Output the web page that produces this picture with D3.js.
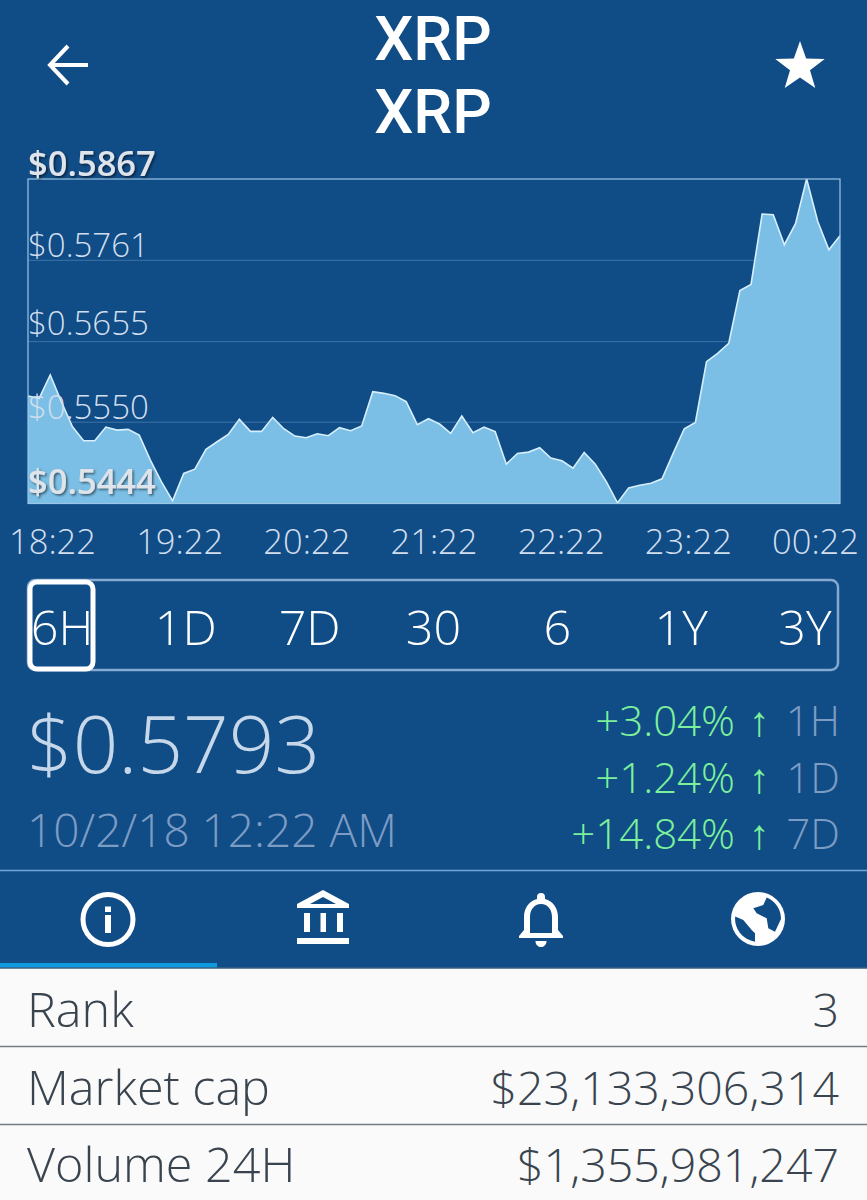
<!DOCTYPE html>
<html>
<head>
<meta charset="utf-8">
<script src="https://cdn.jsdelivr.net/npm/d3@7"></script>
<style>
  html, body { margin: 0; padding: 0; background: #104c86; }
  svg { display: block; }
  text { font-family: "Open Sans", sans-serif; font-weight: 300; }
</style>
</head>
<body>
<svg id="chart" width="867" height="1200"></svg>
<script>
// prices, one every five minutes or so
const prices = [
  0.55841, 0.55811, 0.56115, 0.55767, 0.55441, 0.55258, 0.55258, 0.55436, 0.55397, 0.55406,
  0.55332, 0.55006, 0.54723, 0.54475, 0.54832, 0.54888, 0.55145, 0.55245, 0.55341, 0.55537,
  0.55380, 0.55380, 0.55563, 0.55415, 0.55319, 0.55297, 0.55349, 0.55323, 0.55428, 0.55389,
  0.55450, 0.55898, 0.55876, 0.55846, 0.55767, 0.55467, 0.55545, 0.55476, 0.55354, 0.55580,
  0.55363, 0.55436, 0.55376, 0.54953, 0.55093, 0.55110, 0.55167, 0.55032, 0.54997, 0.54901,
  0.55106, 0.54953, 0.54723, 0.54449, 0.54644, 0.54679, 0.54705, 0.54762, 0.55093, 0.55415,
  0.55497, 0.56290, 0.56398, 0.56529, 0.57216, 0.57295, 0.58213, 0.58204, 0.57813, 0.58087,
  0.58670, 0.58117, 0.57747, 0.57930
];
const priceTicks = [0.5867, 0.5761, 0.5655, 0.5550, 0.5444];
const timeLabels = ["18:22", "19:22", "20:22", "21:22", "22:22", "23:22", "00:22"];
const ranges = ["6H", "1D", "7D", "30", "6", "1Y", "3Y"];
const changes = ["+3.04%", "+1.24%", "+14.84%"];
const changeSpans = ["1H", "1D", "7D"];
const statNames = ["Rank", "Market cap", "Volume 24H"];
const statValues = ["3", "$23,133,306,314", "$1,355,981,247"];

const svg = d3.select("#chart");
const bg = "#104c86";

// soft shadow for the top and bottom price labels
const shadow = svg.append("defs").append("filter").attr("id", "shadow")
  .attr("x", "-10%").attr("y", "-20%").attr("width", "120%").attr("height", "150%");
shadow.append("feDropShadow").attr("dx", 1.5).attr("dy", 1.5).attr("stdDeviation", 1.2)
  .attr("flood-color", "#000").attr("flood-opacity", 0.55);

// header
svg.selectAll(".title").data([60, 133]).enter().append("text")
  .attr("x", 433).attr("y", d => d)
  .attr("text-anchor", "middle").attr("font-size", 62)
  .style("font-family", "Roboto, sans-serif").style("font-weight", 500)
  .attr("fill", "#fff").text("XRP");

svg.append("path").attr("d", "M88 65H52M68 46L50 65L68 84")
  .attr("fill", "none").attr("stroke", "#fff").attr("stroke-width", 4);

const star = d3.range(10).map(i => {
  const r = i % 2 ? 10.5 : 26, a = i * Math.PI / 5;
  return [800 + r * Math.sin(a), 67 - r * Math.cos(a)];
});
svg.append("polygon").attr("points", star.join(" ")).attr("fill", "#fff");

// chart
const x = d3.scaleLinear().domain([0, prices.length - 1]).range([28, 840]);
const y = d3.scaleLinear().domain([0.5444, 0.5867]).range([503.5, 179]);

const area = d3.area().x((d, i) => x(i)).y0(y(0.5444)).y1(d => y(d));
const line = d3.line().x((d, i) => x(i)).y(d => y(d));

svg.append("path").datum(prices).attr("d", area).attr("fill", "#7bbfe6");
svg.append("path").datum(prices).attr("d", line)
  .attr("fill", "none").attr("stroke", "#d6effb").attr("stroke-width", 1.6);

svg.append("g").selectAll("line").data(priceTicks.slice(1, -1)).enter().append("line")
  .attr("x1", 28).attr("x2", 840).attr("y1", d => y(d)).attr("y2", d => y(d))
  .attr("stroke", "#8fc0ea").attr("stroke-opacity", 0.35);

svg.append("rect").attr("x", 28).attr("y", y(0.5867))
  .attr("width", 812).attr("height", y(0.5444) - y(0.5867))
  .attr("fill", "none").attr("stroke", "#9cc6e6").attr("stroke-width", 1.2);

// labels sit at different heights above their lines in the app
const labelNudge = [-4, -3.5, -7, -4, -10.5];
const yAxis = d3.axisRight(y).tickValues(priceTicks).tickSize(0).tickFormat(d => "$" + d.toFixed(4));
const yG = svg.append("g").attr("transform", "translate(28,0)").call(yAxis);
yG.select(".domain").remove();
yG.selectAll("text")
  .attr("x", 0).attr("dy", (d, i) => labelNudge[i])
  .attr("font-size", (d, i) => i === 0 || i === 4 ? 34.5 : 33)
  .attr("fill", (d, i) => i === 0 || i === 4 ? "#dfe3ea" : "#d0deee")
  .style("font-family", "\"Open Sans\", sans-serif")
  .style("font-weight", (d, i) => i === 0 || i === 4 ? 600 : 300)
  .attr("filter", (d, i) => i === 0 || i === 4 ? "url(#shadow)" : null);

const xLabels = d3.scalePoint().domain(timeLabels).range([52, 815]);
const xG = svg.append("g").attr("transform", "translate(0,554)")
  .call(d3.axisBottom(xLabels).tickSize(0).tickPadding(0));
xG.select(".domain").remove();
xG.selectAll("text").attr("dy", 0).attr("y", 0)
  .attr("font-size", 34.5).attr("fill", "#d0deee")
  .style("font-family", "\"Open Sans\", sans-serif").style("font-weight", 300);

// range selector
svg.append("rect").attr("x", 28).attr("y", 580).attr("width", 810).attr("height", 90).attr("rx", 7)
  .attr("fill", "none").attr("stroke", "#86a9cf").attr("stroke-width", 2.5);
svg.append("rect").attr("x", 30).attr("y", 582).attr("width", 63).attr("height", 87).attr("rx", 7)
  .attr("fill", "none").attr("stroke", "#fff").attr("stroke-width", 5);

const rangeX = d3.scalePoint().domain(ranges).range([62, 805]);
svg.selectAll(".range").data(ranges).enter().append("text")
  .attr("x", d => rangeX(d)).attr("y", 645)
  .attr("text-anchor", "middle").attr("font-size", 48.5).attr("fill", "#fff").text(d => d);

// current price
svg.append("text").attr("x", 27).attr("y", 773).attr("font-size", 80)
  .attr("fill", "#c6d7ea").text("$0.5793");
svg.append("text").attr("x", 27).attr("y", 847).attr("font-size", 46)
  .attr("fill", "#7d9cc4").text("10/2/18 12:22 AM");

const rowY = d3.scalePoint().domain(changeSpans).range([736, 849]);
const rows = svg.selectAll(".change").data(changeSpans).enter().append("g");
rows.append("text").attr("x", 735).attr("y", d => rowY(d)).attr("text-anchor", "end")
  .attr("font-size", 42).attr("fill", "#7cf09b").text((d, i) => changes[i]);
rows.append("text").attr("x", 759).attr("y", d => rowY(d)).attr("text-anchor", "middle")
  .attr("font-size", 42).attr("fill", "#7cf09b").text("\u2191");
rows.append("text").attr("x", 840).attr("y", d => rowY(d)).attr("text-anchor", "end")
  .attr("font-size", 42).attr("fill", "#7d9cc4").text(d => d);

// tab bar
svg.append("line").attr("x1", 0).attr("x2", 867).attr("y1", 870.5).attr("y2", 870.5)
  .attr("stroke", "#6fa8d8").attr("stroke-width", 1.5);
svg.append("rect").attr("x", 0).attr("y", 963).attr("width", 217).attr("height", 5).attr("fill", "#0f9ae0");

const info = svg.append("g");
info.append("circle").attr("cx", 108).attr("cy", 919.5).attr("r", 25)
  .attr("fill", "none").attr("stroke", "#fff").attr("stroke-width", 5);
info.append("rect").attr("x", 105).attr("y", 915).attr("width", 6).attr("height", 18).attr("fill", "#fff");
info.append("rect").attr("x", 105).attr("y", 906.500).attr("width", 6).attr("height", 5.500).attr("fill", "#fff");

svg.append("path").attr("fill", "#fff").attr("fill-rule", "evenodd")
  .attr("d", "M323 890L349 904V908H297V904ZM323 897L310 904H336Z M304 913H310V932H304Z M320.500 913H326V932H320.500Z M337 913H343V932H337Z M297 938H349V944H297Z");

svg.append("path").attr("fill", "#fff").attr("fill-rule", "evenodd")
  .attr("d", "M541 893a4 4 0 0 1 4 4v2c8 2 13 9 13 18v13l5 6v2h-44v-2l5-6v-13c0-9 5-16 13-18v-2a4 4 0 0 1 4-4Z M541 904c-7 0-11 6-11 13v16h22v-16c0-7-4-13-11-13Z M535.500 941h11c0 4-3 6-5.500 6s-5.500-2-5.500-6Z");

svg.append("circle").attr("cx", 758).attr("cy", 919).attr("r", 27).attr("fill", "#fff");
svg.append("path").attr("fill", bg)
  .attr("d", "M766.700 897.600A23 23 0 0 1 781 919L775 931.700L768.300 928.300L766.700 918.300L756.700 913.300L753.300 908.300L763.300 905Z M735.200 916.500L743.300 920L751.700 930L755 933.300L755 941.700A23 23 0 0 1 735.200 916.500Z");

// stats table
svg.append("rect").attr("x", 0).attr("y", 968).attr("width", 867).attr("height", 232).attr("fill", "#fafafa");
svg.append("line").attr("x1", 0).attr("x2", 867).attr("y1", 968).attr("y2", 968).attr("stroke", "#3d5f85").attr("stroke-width", 1.5);

const statY = d3.scalePoint().domain(statNames).range([1027, 1182]);
svg.selectAll(".sep").data([1046.5, 1124.5]).enter().append("line")
  .attr("x1", 0).attr("x2", 867).attr("y1", d => d).attr("y2", d => d)
  .attr("stroke", "#777c82").attr("stroke-width", 1.5);
svg.selectAll(".statName").data(statNames).enter().append("text")
  .attr("x", 27).attr("y", d => statY(d)).attr("font-size", 48.5).attr("fill", "#39444f").text(d => d);
svg.selectAll(".statValue").data(statValues).enter().append("text")
  .attr("x", 839).attr("y", (d, i) => statY(statNames[i])).attr("text-anchor", "end")
  .attr("font-size", 46.5).attr("fill", "#39444f").text(d => d);
</script>
</body>
</html>
